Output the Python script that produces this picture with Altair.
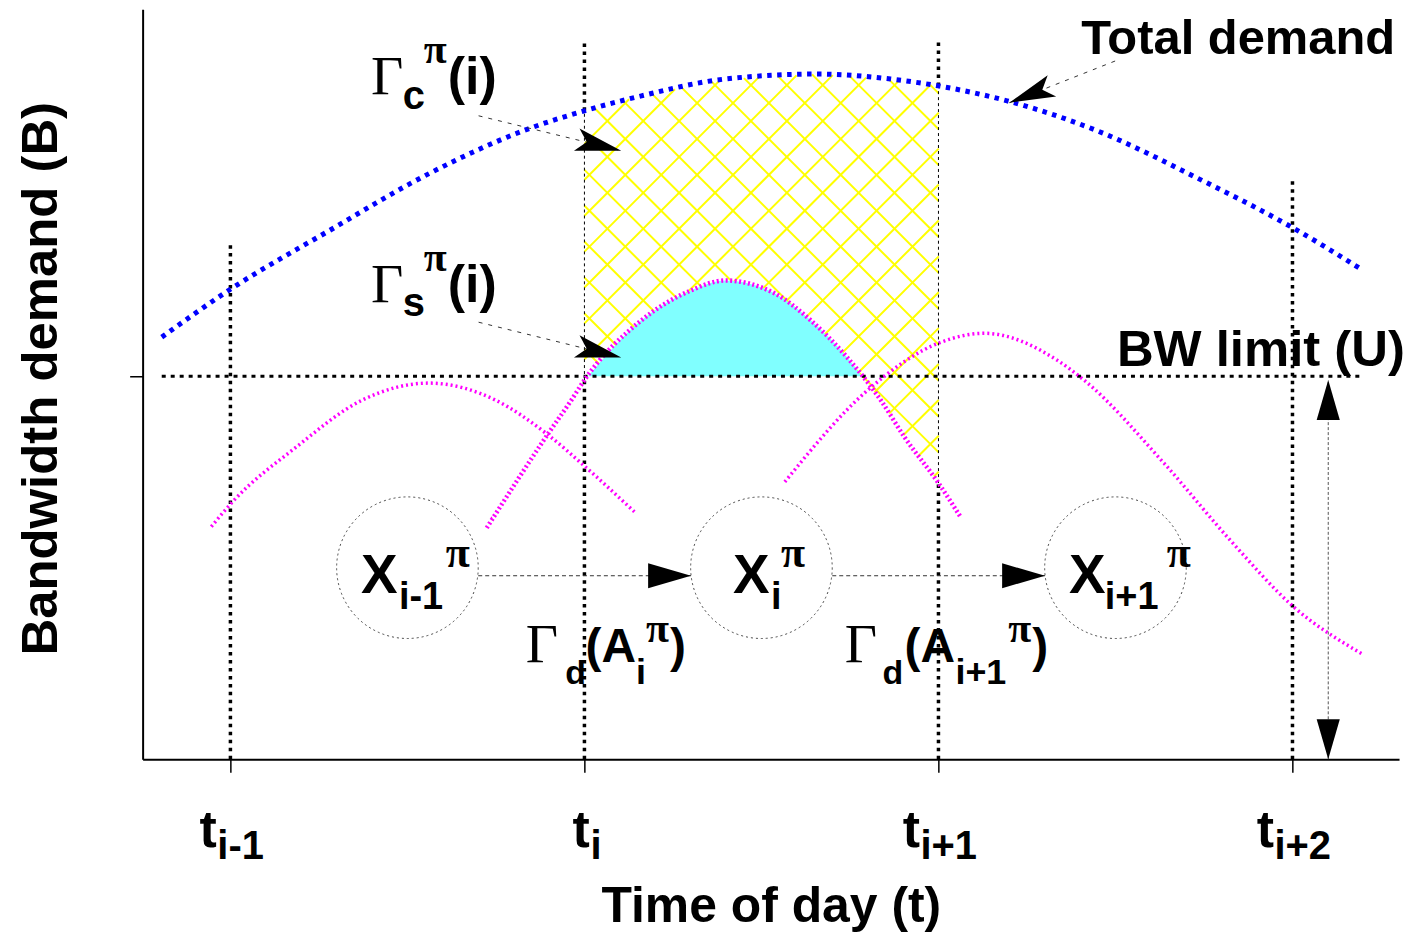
import numpy as np
import pandas as pd
import altair as alt

SANS = "Liberation Sans"
SERIF = "Liberation Serif"

# ---------------- data (t in slot units, B in units of the limit U) ----------------
U = 1.0
tick_t = [0, 1, 2, 3]
tick_sub = ["i-1", "i", "i+1", "i+2"]

demand_t = [-0.194, 0.0, 0.279, 0.561, 0.842, 1.0, 1.161, 1.397, 1.659, 1.865, 2.0, 2.194, 2.448, 2.730, 3.0, 3.2]
demand_B = [1.102, 1.227, 1.380, 1.529, 1.646, 1.693, 1.732, 1.776, 1.789, 1.776, 1.758, 1.719, 1.641, 1.518, 1.388, 1.276]

c1_t = [-0.054, 0.003, 0.186, 0.372, 0.561, 0.749, 0.890, 1.003, 1.141]
c1_B = [0.607, 0.669, 0.815, 0.9375, 0.982, 0.9375, 0.852, 0.763, 0.646]

c2_t = [0.724, 0.899, 0.963, 1.0, 1.161, 1.301, 1.397, 1.538, 1.639, 1.744, 1.837, 1.904, 2.0, 2.062]
c2_B = [0.604, 0.852, 0.9375, 0.990, 1.146, 1.224, 1.250, 1.216, 1.146, 1.047, 0.9375, 0.841, 0.721, 0.633]

c3_t = [1.566, 1.800, 2.006, 2.130, 2.335, 2.411, 2.637, 2.823, 3.003, 3.2]
c3_B = [0.724, 0.9635, 1.0885, 1.112, 1.042, 0.990, 0.773, 0.573, 0.398, 0.273]

guide_top = [1.354, 1.880, 1.880, 1.521]
limit_span = [-0.194, 3.2]

state_t = [0.5, 1.5, 2.5]
state_B = 0.5

# ---------------- geometry / scales ----------------
W, H = 1260, 752
XDOM = [-0.248, 3.301]
YDOM = [0.0, 1.958]
kx = W / (XDOM[1] - XDOM[0])
ky = H / (YDOM[1] - YDOM[0])

xscale = alt.Scale(domain=XDOM, nice=False, zero=False)
yscale = alt.Scale(domain=YDOM, nice=False, zero=False)
xaxis = alt.Axis(values=tick_t, labels=False, ticks=True, tickSize=13, tickWidth=1.5,
                 tickColor="black", domainColor="black", domainWidth=2, grid=False,
                 title="Time of day (t)", titleFont=SANS, titleFontSize=50, titleFontWeight="bold",
                 titleColor="black", titleX=W / 2, titleY=163, titleAlign="center",
                 titleBaseline="alphabetic")
yaxis = alt.Axis(values=[U], labels=False, ticks=True, tickSize=13, tickWidth=1.5,
                 tickColor="black", domainColor="black", domainWidth=2, grid=False,
                 title="Bandwidth demand (B)", titleFont=SANS, titleFontSize=51,
                 titleFontWeight="bold", titleColor="black", titleAngle=270, titleX=-86,
                 titleY=370, titleAlign="center", titleBaseline="alphabetic")
X = alt.X("t:Q", scale=xscale, axis=xaxis)
Y = alt.Y("B:Q", scale=yscale, axis=yaxis)


def top_f(t):
    return np.interp(t, demand_t, demand_B)


def bot_f(t):
    return np.minimum(U, np.interp(t, c2_t, c2_B))


# vertical guides, interrupted inside the hatched interval
g_rows = []
for tt, top in zip(tick_t, guide_top):
    if 1.0 <= tt <= 2.0:
        g_rows.append(dict(t=tt, B=0.0, B2=float(bot_f(tt))))
        g_rows.append(dict(t=tt, B=float(top_f(tt)), B2=top))
    else:
        g_rows.append(dict(t=tt, B=0.0, B2=top))
guides = pd.DataFrame(g_rows)
edges = pd.DataFrame([dict(t=tt, B=float(bot_f(tt)), B2=float(top_f(tt))) for tt in (1.0, 2.0)])

# cross hatch inside [t_i, t_i+1] between min(U, own demand) and total demand
gap = 36.0
xs = np.arange(1.0 * kx, 2.0 * kx + 0.25, 0.25)
segs = []
for sgn in (1, -1):
    cmin = 0 - max(sgn * xs[0], sgn * xs[-1])
    cmax = YDOM[1] * ky - min(sgn * xs[0], sgn * xs[-1])
    for c in np.arange(np.floor(cmin / gap) * gap + 10, cmax + gap, gap):
        ys = sgn * xs + c
        tt = xs / kx
        bb = ys / ky
        inside = (bb >= bot_f(tt)) & (bb <= top_f(tt))
        idx = np.flatnonzero(np.diff(np.concatenate([[0], inside.astype(int), [0]])))
        for a, b in zip(idx[0::2], idx[1::2]):
            b -= 1
            if b > a:
                segs.append(dict(t=tt[a], B=bb[a], t2=tt[b], B2=bb[b]))
hatch = pd.DataFrame(segs)

# cyan: own demand above the limit
cy = []
for k in range(len(c2_t) - 1):
    t0, t1, b0, b1 = c2_t[k], c2_t[k + 1], c2_B[k], c2_B[k + 1]
    if b0 >= U:
        cy.append(dict(t=t0, B=b0, B2=U))
    if (b0 - U) * (b1 - U) < 0:
        tc = t0 + (U - b0) * (t1 - t0) / (b1 - b0)
        cy.append(dict(t=tc, B=U, B2=U))
cyan = pd.DataFrame(cy)

demand = pd.DataFrame(dict(t=demand_t, B=demand_B))
side = pd.concat([pd.DataFrame(dict(t=c1_t, B=c1_B, c="1")), pd.DataFrame(dict(t=c3_t, B=c3_B, c="3"))])
own = pd.DataFrame(dict(t=c2_t, B=c2_B))
limit = pd.DataFrame(dict(t=[limit_span[0]], t2=[limit_span[1]], B=[U]))
states = pd.DataFrame(dict(t=state_t, B=[state_B] * 3))

# arrows
lead_lines = pd.DataFrame(dict(
    t=[0.701, 0.701, 2.499], B=[1.680, 1.141, 1.823],
    t2=[1.104, 1.104, 2.200], B2=[1.589, 1.049, 1.714]))
kite_heads = pd.DataFrame(dict(t=[1.104, 1.104, 2.200], B=[1.589, 1.049, 1.714], ang=[14, 14, 158.4]))
trans_lines = pd.DataFrame(dict(t=[0.70, 1.70], t2=[1.301, 2.301], B=[0.479, 0.479]))
dim_line = pd.DataFrame(dict(t=[3.101], B=[0.0], B2=[0.99]))
tri_heads = pd.DataFrame(dict(t=[1.301, 2.301, 3.101, 3.101], B=[0.479, 0.479, 0.99, 0.0],
                              ang=[0, 0, 270, 90], sz=[1849, 1849, 1600, 1600]))

# text
sans_rows = [
    ("Total demand", 2.403, 1.841, 49), ("BW limit (U)", 2.504, 1.026, 51),
    ("c", 0.487, 1.698, 40), ("(i)", 0.614, 1.737, 52),
    ("s", 0.487, 1.156, 40), ("(i)", 0.614, 1.195, 52),
    ("X", 0.369, 0.435, 55), ("i-1", 0.476, 0.391, 38),
    ("X", 1.420, 0.435, 55), ("i", 1.527, 0.391, 38),
    ("X", 2.369, 0.435, 55), ("i+1", 2.470, 0.391, 38),
    ("d", 0.946, 0.195, 34), ("(A", 1.003, 0.253, 48), ("i", 1.146, 0.195, 36), (")", 1.242, 0.253, 48),
    ("d", 1.842, 0.195, 34), ("(A", 1.904, 0.253, 48), ("i+1", 2.048, 0.195, 36), (")", 2.265, 0.253, 48),
]
tick_x = [-0.087, 0.966, 1.899, 2.899]
sub_x = [-0.037, 1.017, 1.949, 2.949]
for tx, sx, s in zip(tick_x, sub_x, tick_sub):
    sans_rows.append(("t", tx, -0.229, 52))
    sans_rows.append((s, sx, -0.260, 40))
sans_txt = pd.DataFrame(sans_rows, columns=["txt", "t", "B", "fs"])
gamma_txt = pd.DataFrame([("Γ", 0.397, 1.737, 56), ("Γ", 0.397, 1.195, 56),
                          ("Γ", 0.834, 0.255, 56), ("Γ", 1.735, 0.255, 56)],
                         columns=["txt", "t", "B", "fs"])
pi_txt = pd.DataFrame([("π", 0.546, 1.818, 42), ("π", 0.546, 1.276, 42),
                       ("π", 0.608, 0.503, 44), ("π", 1.555, 0.503, 44), ("π", 2.645, 0.503, 44),
                       ("π", 1.174, 0.305, 42), ("π", 2.197, 0.305, 42)],
                      columns=["txt", "t", "B", "fs"])

KITE = "M0,0 L-2,-0.5 L-1.55,0 L-2,0.5 Z"
TRI = "M0,0 L-2,-0.58 L-2,0.58 Z"

layers = [
    alt.Chart(guides).mark_rule(color="black", strokeWidth=3.5, strokeDash=[3.5, 4.5]).encode(
        x=X, y=Y, y2=alt.Y2("B2")),
    alt.Chart(hatch).mark_rule(color="#FFFF00", strokeWidth=2).encode(
        x=X, y=Y, x2=alt.X2("t2"), y2=alt.Y2("B2")),
    alt.Chart(edges).mark_rule(color="black", strokeWidth=1, strokeDash=[3, 3]).encode(
        x=X, y=Y, y2=alt.Y2("B2")),
    alt.Chart(cyan).mark_area(color="#80FFFF", opacity=1, interpolate="monotone").encode(
        x=X, y=Y, y2=alt.Y2("B2")),
    alt.Chart(limit).mark_rule(color="black", strokeWidth=3, strokeDash=[4, 5]).encode(
        x=X, x2=alt.X2("t2"), y=Y),
    alt.Chart(demand).mark_line(color="#0000FF", strokeWidth=5, strokeDash=[4.5, 5.5],
                                interpolate="monotone").encode(x=X, y=Y),
    alt.Chart(side).mark_line(color="#FF00FF", strokeWidth=3.5, strokeDash=[2, 3],
                              interpolate="monotone").encode(x=X, y=Y, detail="c:N"),
    alt.Chart(own).mark_line(color="#FF00FF", strokeWidth=4.5, strokeDash=[2, 2.5],
                             interpolate="monotone").encode(x=X, y=Y),
    alt.Chart(states).mark_point(shape="circle", size=142 * 142, filled=False, opacity=1,
                                 color="#444444", strokeWidth=1, strokeDash=[2, 3]).encode(x=X, y=Y),
    alt.Chart(lead_lines).mark_rule(color="#333333", strokeWidth=1, strokeDash=[4, 6]).encode(
        x=X, y=Y, x2=alt.X2("t2"), y2=alt.Y2("B2")),
    alt.Chart(trans_lines).mark_rule(color="#333333", strokeWidth=1, strokeDash=[4, 3]).encode(
        x=X, x2=alt.X2("t2"), y=Y),
    alt.Chart(dim_line).mark_rule(color="#555555", strokeWidth=1, strokeDash=[3, 2]).encode(
        x=X, y=Y, y2=alt.Y2("B2")),
    alt.Chart(kite_heads).mark_point(shape=KITE, size=2116, filled=True, opacity=1,
                                     color="black", strokeWidth=0).encode(
        x=X, y=Y, angle=alt.Angle("ang:Q", scale=None)),
    alt.Chart(tri_heads).mark_point(shape=TRI, filled=True, opacity=1, color="black",
                                    strokeWidth=0).encode(
        x=X, y=Y, angle=alt.Angle("ang:Q", scale=None), size=alt.Size("sz:Q", scale=None)),
    alt.Chart(sans_txt).mark_text(align="left", baseline="alphabetic", font=SANS,
                                  fontWeight="bold", color="black").encode(
        x=X, y=Y, text="txt:N", size=alt.Size("fs:Q", scale=None)),
    alt.Chart(gamma_txt).mark_text(align="left", baseline="alphabetic", font=SERIF,
                                   color="black").encode(
        x=X, y=Y, text="txt:N", size=alt.Size("fs:Q", scale=None)),
    alt.Chart(pi_txt).mark_text(align="left", baseline="alphabetic", font=SERIF,
                                fontWeight="bold", color="black").encode(
        x=X, y=Y, text="txt:N", size=alt.Size("fs:Q", scale=None)),
]

chart = alt.layer(*layers).properties(
    width=W, height=H,
    autosize=alt.AutoSizeParams(type="none"),
    padding={"left": 135, "top": 0, "right": 14, "bottom": 174},
).configure_view(stroke=None)

chart.save("out.html", embed_options={"renderer": "svg", "actions": False})
